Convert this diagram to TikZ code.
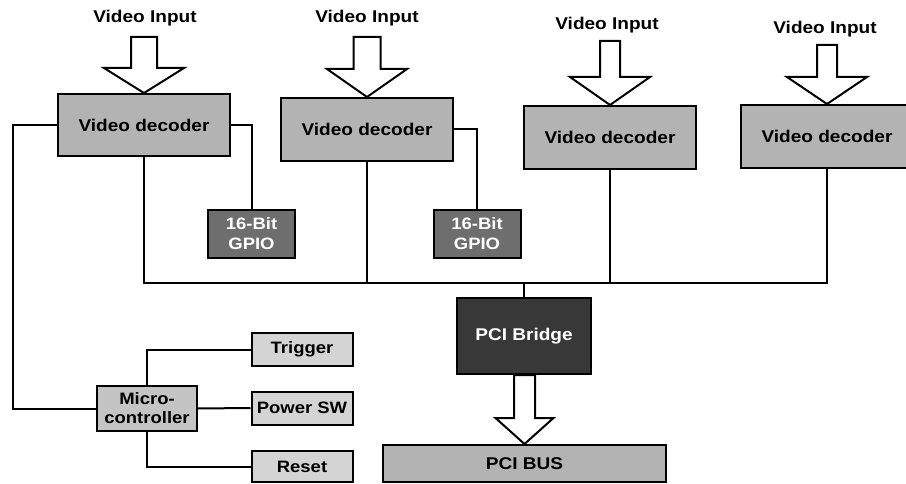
\documentclass[tikz,border=0pt]{standalone}
\usepackage{fontspec}
\setmainfont{Liberation Sans}[FakeStretch=1.12]
\usetikzlibrary{calc}
\definecolor{decfill}{HTML}{B3B3B3}
\definecolor{gpiofill}{HTML}{6E6E6E}
\definecolor{brfill}{HTML}{383838}
\definecolor{smfill}{HTML}{D4D4D4}
\definecolor{mcfill}{HTML}{C4C4C4}
\tikzset{
  box/.style={draw=black, line width=2pt, inner sep=0pt, font=\bfseries\fontsize{17}{19}\selectfont, align=center},
  decbox/.style={box, fill=decfill, minimum width=172pt, minimum height=62pt},
  gpiobox/.style={box, fill=gpiofill, text=white, minimum width=87pt, minimum height=48pt, font=\bfseries\fontsize{16.5}{20}\selectfont},
  smbox/.style={box, fill=smfill, minimum width=101pt, minimum height=33pt, font=\bfseries\fontsize{16.5}{19}\selectfont},
  lbl/.style={font=\bfseries\fontsize{17}{19}\selectfont, inner sep=0pt},
  wire/.style={draw=black, line width=2pt},
  harrow/.style={draw=black, line width=2pt, fill=white, line join=miter},
}
% #1 tip point, #2 shaft half width, #3 head half width, #4 head length, #5 total length (arrow points downward to tip)
\newcommand\hollowarrow[5]{%
  \draw[harrow] (#1) -- ++(-#3,-#4) -- ++(#3-#2,0) -- ++(0,-#5+#4) -- ++(2*#2,0) -- ++(0,#5-#4) -- ++(#3-#2,0) -- cycle;}
\begin{document}
\begin{tikzpicture}[x=1pt,y=-1pt]
\useasboundingbox (0,0) rectangle (906,484);
\clip (0,0) rectangle (906,484);
% decoders
\node[decbox] (d1) at (144,125) {Video decoder};
\node[decbox, minimum height=63pt] (d2) at (367,129.5) {Video decoder};
\node[decbox, minimum height=63pt] (d3) at (610,137.5) {Video decoder};
\node[decbox, minimum height=63pt] (d4) at (827,136.5) {Video decoder};
% labels
\node[lbl] (l1) at (145,18) {Video Input};
\node[lbl] (l2) at (367,18) {Video Input};
\node[lbl] (l3) at (607,25) {Video Input};
\node[lbl] (l4) at (825,29) {Video Input};
% input arrows
\hollowarrow{d1.north}{13}{40}{25}{56}
\hollowarrow{d2.north}{13.5}{40}{28}{60}
\hollowarrow{d3.north}{10}{40}{28}{64}
\hollowarrow{d4.north}{10}{40}{27}{59}
% GPIO
\node[gpiobox] (g1) at (251.5,234) {16-Bit\\GPIO};
\node[gpiobox] (g2) at (477,234) {16-Bit\\GPIO};
\draw[wire] (d1.east) -| (g1.north);
\draw[wire] (d2.east) -| (g2.north);
% PCI bridge and bus
\node[box, fill=brfill, text=white, minimum width=134pt, minimum height=76pt] (br) at (524,336) {PCI Bridge};
\node[box, fill=decfill, minimum width=283pt, minimum height=37pt] (bus) at (524.5,463.5) {PCI BUS};
\coordinate (busy) at (0,283);
\draw[wire] (d1.south) -- (d1.south |- busy) -- (d4.south |- busy) -- (d4.south);
\draw[wire] (d2.south) -- (d2.south |- busy);
\draw[wire] (d3.south) -- (d3.south |- busy);
\draw[wire] (br.north) -- (br.north |- busy);
\hollowarrow{bus.north}{10.5}{29}{26}{69}
% microcontroller
\node[box, fill=mcfill, minimum width=100pt, minimum height=45pt, font=\bfseries\fontsize{16.5}{19}\selectfont] (mc) at (147,408.5) {Micro-\\controller};
\node[smbox] (trig) at (302,349.5) {Trigger};
\node[smbox] (pw) at (302,408) {Power SW};
\node[smbox, minimum height=31pt] (rst) at (302,466.5) {Reset};
\draw[wire] (mc.north) |- (trig.west);
\draw[wire] (mc.east) -- (pw.west);
\draw[wire] (mc.south) |- (rst.west);
\coordinate (lc) at (13,125);
\draw[wire] (d1.west) -- (lc) |- (mc.west);
\end{tikzpicture}
\end{document}
